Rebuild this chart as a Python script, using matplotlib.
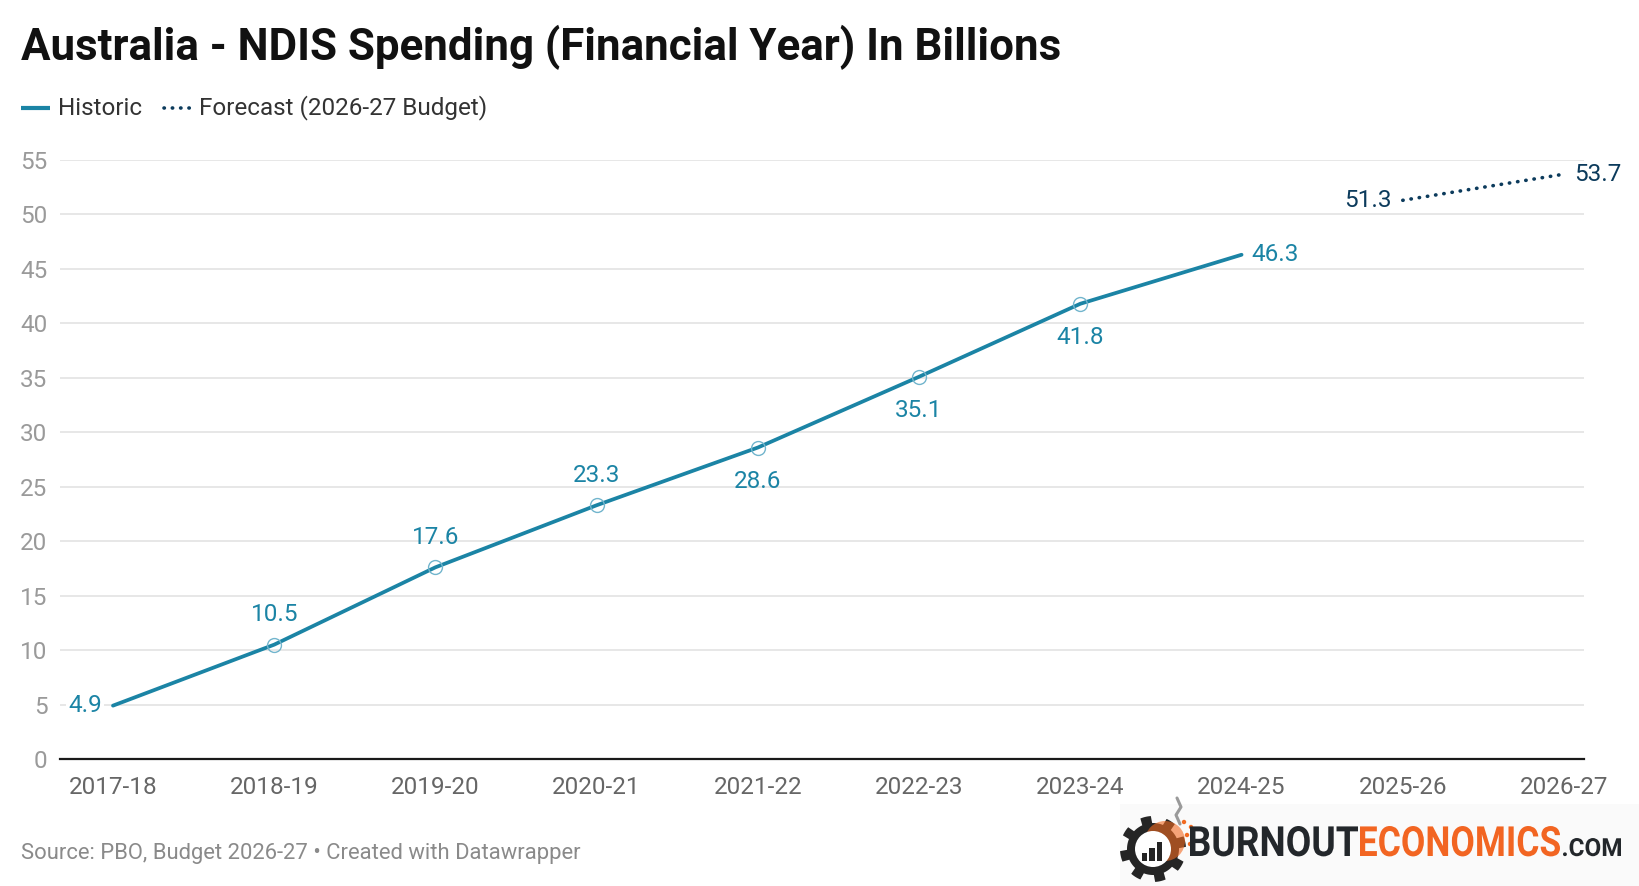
import numpy as np
import matplotlib
matplotlib.use("Agg")
import matplotlib.pyplot as plt
from matplotlib.patches import Polygon, Circle, Rectangle, PathPatch
from matplotlib.textpath import TextPath
from matplotlib.font_manager import FontProperties
from matplotlib.transforms import Affine2D

plt.rcParams["font.family"] = ["Roboto", "DejaVu Sans"]

years = ["2017-18", "2018-19", "2019-20", "2020-21", "2021-22",
         "2022-23", "2023-24", "2024-25", "2025-26", "2026-27"]
historic = [4.9, 10.5, 17.6, 23.3, 28.6, 35.1, 41.8, 46.3]
forecast = [51.3, 53.7]
# where each value label goes relative to its point
hist_label_pos = ["left", "above", "above", "above", "below", "below", "below", "right"]
fc_label_pos = ["left", "right"]

HIST_C = "#1b84a5"
FC_C = "#0c3b5c"
FS = 17.5

W, H = 1640, 886
fig = plt.figure(figsize=(W / 100, H / 100), dpi=100)

# main axes, placed in pixels
x0, x1, y_top, y_bot = 60, 1584, 160, 759
ax = fig.add_axes([x0 / W, (H - y_bot) / H, (x1 - x0) / W, (y_bot - y_top) / H])

xh = np.arange(len(historic))
xf = np.arange(len(historic), len(historic) + len(forecast))

ax.plot(xh, historic, color=HIST_C, lw=2.7, solid_capstyle="round", zorder=3)
ax.plot(xh[1:-1], historic[1:-1], "o", ms=10, mfc="none", mec="#72b5cd", mew=1.0, zorder=4)
ax.plot(xf, forecast, color=FC_C, lw=2.6, linestyle=(0, (0.1, 2.2)),
        dash_capstyle="round", zorder=3)

offsets = {"left": (-11, 0, "right"), "right": (10, 0, "left"),
           "above": (0, 30, "center"), "below": (0, -34, "center")}
for x, v, p in zip(xh, historic, hist_label_pos):
    dx, dy, ha = offsets[p]
    ax.annotate(f"{v:.1f}", (x, v), xytext=(dx, dy), textcoords="offset pixels",
                ha=ha, va="center", fontsize=FS, color=HIST_C, zorder=5,
                bbox=dict(boxstyle="square,pad=0.1", fc="white", ec="none") if p == "left" else None)
for x, v, p in zip(xf, forecast, fc_label_pos):
    dx, dy, ha = offsets[p]
    ax.annotate(f"{v:.1f}", (x, v), xytext=(dx, dy), textcoords="offset pixels",
                ha=ha, va="center", fontsize=FS, color=FC_C, zorder=5, annotation_clip=False)

# x positions: first category at 113px, last at 1564px
step = (1564 - 113) / 9
ax.set_xlim(-(113 - x0) / step, 9 + (x1 - 1564) / step)
ax.set_ylim(0, 55)
ax.set_yticks(range(0, 56, 5))
ax.set_xticks(range(len(years)))
ax.set_xticklabels(years)
ax.grid(axis="y", color="#e3e3e3", lw=1.2, zorder=0)
for s in ["top", "right", "left"]:
    ax.spines[s].set_visible(False)
ax.spines["bottom"].set_color("#1a1a1a")
ax.spines["bottom"].set_linewidth(1.6)
ax.spines["bottom"].set_zorder(4)
ax.tick_params(axis="y", length=0, pad=9, labelsize=FS, labelcolor="#9a9a9a")
ax.tick_params(axis="x", length=0, pad=12, labelsize=FS, labelcolor="#666666")
ax.set_axisbelow(True)

# overlay axes in pixel coords for title, legend, source and logo
ov = fig.add_axes([0, 0, 1, 1], zorder=-1)
ov.set_xlim(0, W)
ov.set_ylim(H, 0)
ov.axis("off")

ov.text(21, 60, "Australia - NDIS Spending (Financial Year) In Billions",
        fontsize=31.6, fontweight="bold", color="#111111", va="baseline", ha="left")

ov.plot([21, 50], [108, 108], color=HIST_C, lw=3, solid_capstyle="butt")
ov.text(58, 108, "Historic", fontsize=FS, color="#333333", va="center", ha="left")
ov.plot([164, 194], [108, 108], color=FC_C, lw=2.6, linestyle=(0, (0.1, 2.2)),
        dash_capstyle="round")
ov.text(199, 108, "Forecast (2026-27 Budget)", fontsize=FS, color="#333333",
        va="center", ha="left")

ov.text(21, 853, "Source: PBO, Budget 2026-27 \u2022 Created with Datawrapper",
        fontsize=15.8, color="#8a8a8a", va="center", ha="left")

# logo
ov.add_patch(Rectangle((1120, 804), W - 1120, H - 804, fc="#fafafa", ec="none"))
cx, cy = 1153, 849
ang = np.linspace(0, 2 * np.pi, 8 * 24, endpoint=False)
phase = ((ang + np.pi / 8) * 8 / (2 * np.pi)) % 1
r = np.where(phase < 0.45, 33, 26)
ov.add_patch(Polygon(np.c_[cx + r * np.cos(ang), cy + r * np.sin(ang)],
                     fc="#252525", ec="none"))
ov.add_patch(Circle((cx + 12, cy - 8), 20, fc="#f26a21", ec="none", alpha=0.6))
ov.add_patch(Circle((cx, cy), 18, fc="white", ec="none"))
for i, bh in enumerate([8, 13, 19]):
    ov.add_patch(Rectangle((cx - 11 + i * 7.5, cy + 12 - bh), 5.5, bh, fc="#252525", ec="none"))
for dx, dy in [(34, -14), (38, -22), (31, -27), (37, -5)]:
    ov.add_patch(Circle((cx + dx, cy + dy), 2.2, fc="#f26a21", ec="none"))
ov.plot([1180, 1176, 1181, 1177], [824, 815, 807, 798], color="#9a9a9a", lw=2.2,
        solid_capstyle="round")

fp = FontProperties(family="Roboto", weight="bold")


def logo_word(s, xl, xr, top, base, color):
    tp = TextPath((0, 0), s, size=1, prop=fp)
    e = tp.get_extents()
    tr = Affine2D().translate(-e.x0, 0).scale((xr - xl) / e.width, -(base - top) / e.y1)
    tr = tr.translate(xl, base)
    ov.add_patch(PathPatch(tr.transform_path(tp), fc=color, ec="none"))


logo_word("BURNOUT", 1190, 1358, 826, 856, "#23272b")
logo_word("ECONOMICS", 1360, 1560, 826, 856, "#f26522")
logo_word(".COM", 1563, 1621, 838, 856, "#23272b")

fig.savefig("out.png", dpi=100)
